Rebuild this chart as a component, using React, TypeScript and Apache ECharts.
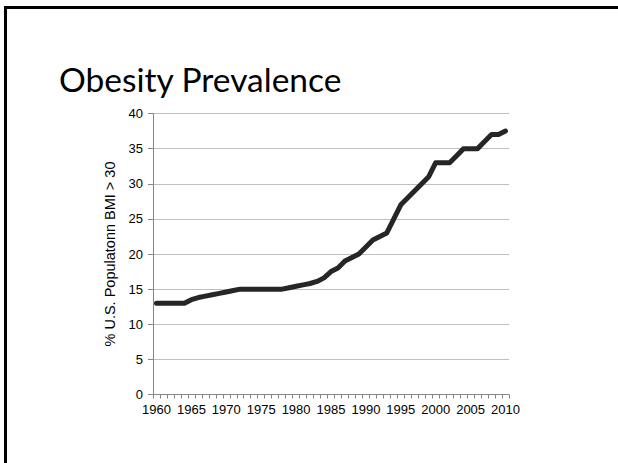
import React, { useEffect, useRef } from "react";
import * as echarts from "echarts";

const years = [
  "1960", "1961", "1962", "1963", "1964", "1965", "1966", "1967", "1968", "1969",
  "1970", "1971", "1972", "1973", "1974", "1975", "1976", "1977", "1978", "1979",
  "1980", "1981", "1982", "1983", "1984", "1985", "1986", "1987", "1988", "1989",
  "1990", "1991", "1992", "1993", "1994", "1995", "1996", "1997", "1998", "1999",
  "2000", "2001", "2002", "2003", "2004", "2005", "2006", "2007", "2008", "2009",
  "2010",
];

const obesity = [
  13, 13, 13, 13, 13, 13.5, 13.8, 14, 14.2, 14.4,
  14.6, 14.8, 15, 15, 15, 15, 15, 15, 15, 15.2,
  15.4, 15.6, 15.8, 16.1, 16.6, 17.5, 18, 19, 19.5, 20,
  21, 22, 22.5, 23, 25, 27, 28, 29, 30, 31,
  33, 33, 33, 34, 35, 35, 35, 36, 37, 37,
  37.5,
];

const titleText = "Obesity Prevalence";
const yAxisName = "% U.S. Populatonn BMI > 30";

export default function App() {
  const ref = useRef<HTMLDivElement>(null);

  useEffect(() => {
    if (!ref.current) return;
    const chart = echarts.init(ref.current, null, { renderer: "svg" });
    chart.setOption({
      animation: false,
      backgroundColor: "#ffffff",
      title: {
        text: titleText,
        left: 54,
        top: 57,
        textStyle: {
          fontFamily: "Lato",
          fontSize: 33.5,
          fontWeight: "normal",
          color: "#000000",
        },
      },
      graphic: [
        {
          type: "rect",
          shape: { x: 4, y: 6, width: 614, height: 3 },
          style: { fill: "#000000" },
        },
        {
          type: "rect",
          shape: { x: 4, y: 6, width: 3, height: 457 },
          style: { fill: "#000000" },
        },
      ],
      grid: {
        left: 153,
        right: 109,
        top: 113.5,
        bottom: 68.5,
        containLabel: false,
      },
      xAxis: {
        type: "category",
        data: years,
        boundaryGap: true,
        axisLine: { show: true, lineStyle: { color: "#868686", width: 1 } },
        axisTick: {
          show: true,
          interval: 0,
          length: 4,
          lineStyle: { color: "#868686" },
        },
        axisLabel: {
          interval: 4,
          margin: 8,
          fontFamily: "Liberation Sans",
          fontSize: 13,
          color: "#000000",
        },
        splitLine: { show: false },
      },
      yAxis: {
        type: "value",
        min: 0,
        max: 40,
        interval: 5,
        name: yAxisName,
        nameLocation: "middle",
        nameRotate: 90,
        nameGap: 25,
        nameTextStyle: {
          fontFamily: "Liberation Sans",
          fontSize: 14.5,
          color: "#000000",
        },
        axisLine: { show: true, lineStyle: { color: "#868686", width: 1 } },
        axisTick: { show: true, length: 5, lineStyle: { color: "#868686" } },
        axisLabel: {
          margin: 10,
          fontFamily: "Liberation Sans",
          fontSize: 13,
          color: "#000000",
        },
        splitLine: { show: true, lineStyle: { color: "#bfbfbf", width: 1 } },
      },
      series: [
        {
          type: "line",
          data: obesity,
          symbol: "none",
          lineStyle: { color: "#262626", width: 5, join: "round", cap: "round" },
        },
      ],
    });
    return () => chart.dispose();
  }, []);

  return (
    <div
      ref={ref}
      style={{ position: "fixed", left: 0, top: 0, width: 618, height: 463 }}
    />
  );
}
